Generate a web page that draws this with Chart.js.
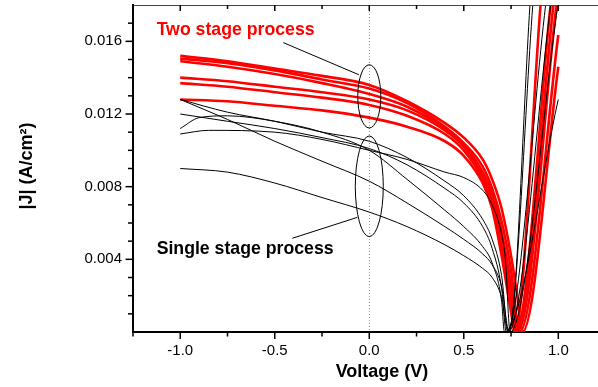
<!DOCTYPE html>
<html>
<head>
<meta charset="utf-8">
<script src="https://cdn.jsdelivr.net/npm/chart.js@4"></script>
<style>
  body { margin: 0; background: #fff; }
  #wrap { width: 598px; height: 387px; position: relative; }
</style>
</head>
<body>
<div id="wrap"><canvas id="the_chart"></canvas></div>
<script>
// J-V curves, each one a list of [voltage (V), |J| (A/cm2)]
// two stage process (red)
const twoStage1 = [[-1,0.0152],[-0.75,0.0149],[-0.5,0.0145],[-0.25,0.0141],[0,0.0136],[0.2,0.0127],[0.4,0.0115],[0.5,0.0107],[0.6,0.0095],[0.65,0.0084],[0.7,0.0068],[0.75,0.0042],[0.78,0.0022],[0.81,0],[1.0,0.0146]];
const twoStage2 = [[-1,0.01505],[-0.75,0.0148],[-0.5,0.0144],[-0.25,0.0139],[0,0.0134],[0.2,0.0126],[0.4,0.0113],[0.5,0.0104],[0.6,0.0091],[0.65,0.0079],[0.7,0.0061],[0.75,0.0034],[0.795,0],[1.0,0.01635]];
const twoStage3 = [[-1,0.0149],[-0.75,0.0146],[-0.5,0.0142],[-0.25,0.0137],[0,0.0131],[0.2,0.0124],[0.4,0.0112],[0.5,0.0103],[0.6,0.0088],[0.65,0.0076],[0.7,0.0055],[0.75,0.0026],[0.785,0],[0.99,0.018]];
const twoStage4 = [[-1,0.0140],[-0.75,0.0138],[-0.5,0.0135],[-0.25,0.0132],[0,0.0128],[0.2,0.0122],[0.4,0.0111],[0.5,0.0102],[0.6,0.0086],[0.65,0.0073],[0.7,0.0051],[0.75,0.0021],[0.78,0],[0.974,0.018]];
const twoStage5 = [[-1,0.0137],[-0.75,0.0135],[-0.5,0.0132],[-0.25,0.0129],[0,0.0125],[0.2,0.0119],[0.4,0.0109],[0.5,0.0100],[0.6,0.0084],[0.65,0.0070],[0.7,0.0046],[0.75,0.0015],[0.775,0],[0.959,0.018]];
const twoStage6 = [[-1,0.0128],[-0.75,0.0127],[-0.5,0.01245],[-0.25,0.0122],[0,0.0118],[0.2,0.0113],[0.4,0.0105],[0.5,0.0097],[0.6,0.0082],[0.65,0.0068],[0.7,0.0042],[0.75,0.0011],[0.77,0],[0.906,0.018]];

// single stage process (black)
const singleStage1 = [[-1,0.0128],[-0.75,0.0117],[-0.5,0.0105],[-0.25,0.0094],[0,0.0083],[0.2,0.0071],[0.4,0.0058],[0.5,0.0051],[0.6,0.0043],[0.65,0.0037],[0.7,0.0025],[0.74,0],[0.85,0.018]];
const singleStage2 = [[-1,0.0128],[-0.75,0.0121],[-0.5,0.0116],[-0.25,0.0110],[0,0.0105],[0.2,0.0096],[0.4,0.0083],[0.5,0.0075],[0.6,0.0062],[0.65,0.0051],[0.7,0.0031],[0.735,0],[0.865,0.018]];
const singleStage3 = [[-1,0.0120],[-0.75,0.0116],[-0.5,0.0112],[-0.25,0.0107],[0,0.0101],[0.2,0.0092],[0.4,0.0079],[0.5,0.0071],[0.6,0.0058],[0.65,0.0046],[0.7,0.0024],[0.725,0],[0.933,0.018]];
const singleStage4 = [[-1,0.0112],[-0.9,0.0118],[-0.75,0.0119],[-0.5,0.0116],[-0.25,0.0110],[0,0.0100],[0.2,0.0084],[0.4,0.0067],[0.5,0.0058],[0.6,0.0047],[0.65,0.0038],[0.7,0.0017],[0.715,0],[1.0,0.0128]];
const singleStage5 = [[-1,0.0109],[-0.85,0.0111],[-0.5,0.0110],[-0.25,0.0106],[0,0.0100],[0.2,0.0095],[0.4,0.0088],[0.5,0.0085],[0.6,0.0078],[0.65,0.0070],[0.7,0.0054],[0.72,0.0040],[0.745,0],[0.998,0.018]];
const singleStage6 = [[-1,0.0090],[-0.75,0.0088],[-0.5,0.0082],[-0.25,0.0074],[0,0.0066],[0.2,0.0058],[0.4,0.0048],[0.5,0.0042],[0.6,0.0035],[0.65,0.0030],[0.7,0.0019],[0.735,0],[0.96,0.018]];

const twoStageCurves = [twoStage1, twoStage2, twoStage3, twoStage4, twoStage5, twoStage6];
const singleStageCurves = [singleStage1, singleStage2, singleStage3, singleStage4, singleStage5, singleStage6];

// axis labels
const xTitle = "Voltage (V)";
const yTitle = "|J| (A/cm²)";
const twoStageLabel = "Two stage process";
const singleStageLabel = "Single stage process";

const fontFamily = "'Liberation Sans', Arial, Helvetica, sans-serif";

function toPoints(curve){
    return curve.map(p => ({x: p[0], y: p[1]}));
}

function makeDataset(curve, color, width){
    return {
        data: toPoints(curve),
        borderColor: color,
        borderWidth: width,
        pointRadius: 0,
        fill: false,
        cubicInterpolationMode: 'monotone'
    };
}

let datasets = [];
singleStageCurves.forEach(c => datasets.push(makeDataset(c, '#000', 1)));
twoStageCurves.forEach(c => datasets.push(makeDataset(c, '#ff0000', 2.6)));

// extra drawing: ticks on all sides, dotted zero line, ellipses, labels
const decorations = {
    id: 'decorations',
    beforeDatasetsDraw(chart){
        const {ctx, chartArea, scales: {x}} = chart;
        ctx.save();
        ctx.strokeStyle = '#999';
        ctx.lineWidth = 1;
        ctx.setLineDash([1, 2]);
        let px = Math.round(x.getPixelForValue(0)) + 0.5;
        ctx.beginPath();
        ctx.moveTo(px, chartArea.top);
        ctx.lineTo(px, chartArea.bottom);
        ctx.stroke();
        ctx.restore();
    },
    afterDraw(chart){
        const {ctx, chartArea, scales: {x, y}} = chart;
        ctx.save();

        // top frame line
        ctx.lineWidth = 1;
        ctx.strokeStyle = '#444';
        ctx.beginPath();
        ctx.moveTo(chartArea.left, chartArea.top + 0.5);
        ctx.lineTo(chartArea.right, chartArea.top + 0.5);
        ctx.stroke();

        ctx.strokeStyle = '#000';
        ctx.lineWidth = 1.5;
        // x ticks: bottom outward, top inward
        for (let i = -5; i <= 4; i++){
            let v = i * 0.25;
            let px = x.getPixelForValue(v);
            let major = i % 2 === 0;
            ctx.beginPath();
            ctx.moveTo(px, chartArea.bottom);
            ctx.lineTo(px, chartArea.bottom + (major ? 7 : 4.5));
            ctx.moveTo(px, chartArea.top);
            ctx.lineTo(px, chartArea.top + (major ? 6 : 4));
            ctx.stroke();
        }
        // y ticks outward
        for (let i = 1; i <= 17; i++){
            let py = y.getPixelForValue(i * 0.001);
            let major = i % 4 === 0;
            ctx.beginPath();
            ctx.moveTo(chartArea.left, py);
            ctx.lineTo(chartArea.left - (major ? 7.5 : 5), py);
            ctx.stroke();
        }

        // ellipses around V = 0
        ctx.lineWidth = 1;
        drawEllipse(ctx, x, y, 0.0, 0.01297, 0.061, 0.00174);
        drawEllipse(ctx, x, y, 0.0, 0.00802, 0.074, 0.00277);

        // pointer lines
        drawSegment(ctx, x, y, -0.455, 0.01593, -0.055, 0.01416);
        drawSegment(ctx, x, y, -0.407, 0.00516, -0.063, 0.00631);

        // labels
        ctx.font = 'bold 17.7px ' + fontFamily;
        ctx.textBaseline = 'middle';
        ctx.textAlign = 'left';
        ctx.fillStyle = '#ff0000';
        ctx.fillText(twoStageLabel, x.getPixelForValue(-1.125), y.getPixelForValue(0.0166));
        ctx.fillStyle = '#000';
        ctx.fillText(singleStageLabel, x.getPixelForValue(-1.125), y.getPixelForValue(0.00455));

        // axis titles
        ctx.font = 'bold 18px ' + fontFamily;
        ctx.textAlign = 'center';
        ctx.fillText(xTitle, 382, 372);
        ctx.translate(27, 166);
        ctx.rotate(-Math.PI / 2);
        ctx.fillText(yTitle, 0, 0);
        ctx.restore();
    }
};

function drawEllipse(ctx, x, y, cv, cj, rv, rj){
    let cx = x.getPixelForValue(cv);
    let cy = y.getPixelForValue(cj);
    let rx = x.getPixelForValue(cv + rv) - cx;
    let ry = cy - y.getPixelForValue(cj + rj);
    ctx.beginPath();
    ctx.ellipse(cx, cy, rx, ry, 0, 0, Math.PI * 2);
    ctx.stroke();
}

function drawSegment(ctx, x, y, v1, j1, v2, j2){
    ctx.beginPath();
    ctx.moveTo(x.getPixelForValue(v1), y.getPixelForValue(j1));
    ctx.lineTo(x.getPixelForValue(v2), y.getPixelForValue(j2));
    ctx.stroke();
}

const chart = new Chart(document.getElementById('the_chart'), {
    type: 'line',
    data: { datasets: datasets },
    options: {
        responsive: true,
        maintainAspectRatio: false,
        animation: false,
        layout: { padding: { top: 5, right: 0, left: 0, bottom: 0 } },
        plugins: {
            legend: { display: false },
            tooltip: { enabled: false }
        },
        scales: {
            x: {
                type: 'linear',
                min: -1.25,
                max: 1.21,
                afterFit: s => { s.height = 55; s.paddingLeft = 0; s.paddingRight = 0; },
                grid: { display: false, drawTicks: false },
                border: { display: true, color: '#000', width: 2 },
                ticks: {
                    stepSize: 0.5,
                    includeBounds: false,
                    padding: 10,
                    color: '#000',
                    font: { size: 15, family: fontFamily },
                    maxRotation: 0,
                    callback: v => v.toFixed(1)
                }
            },
            y: {
                type: 'linear',
                min: 0,
                max: 0.018,
                afterFit: s => { s.width = 133; s.paddingTop = 0; s.paddingBottom = 0; },
                grid: { display: false, drawTicks: false },
                border: { display: true, color: '#000', width: 2 },
                ticks: {
                    stepSize: 0.004,
                    includeBounds: false,
                    padding: 11,
                    color: '#000',
                    font: { size: 15, family: fontFamily },
                    callback: v => v === 0 ? '' : v.toFixed(3)
                }
            }
        }
    },
    plugins: [decorations]
});
</script>
</body>
</html>
